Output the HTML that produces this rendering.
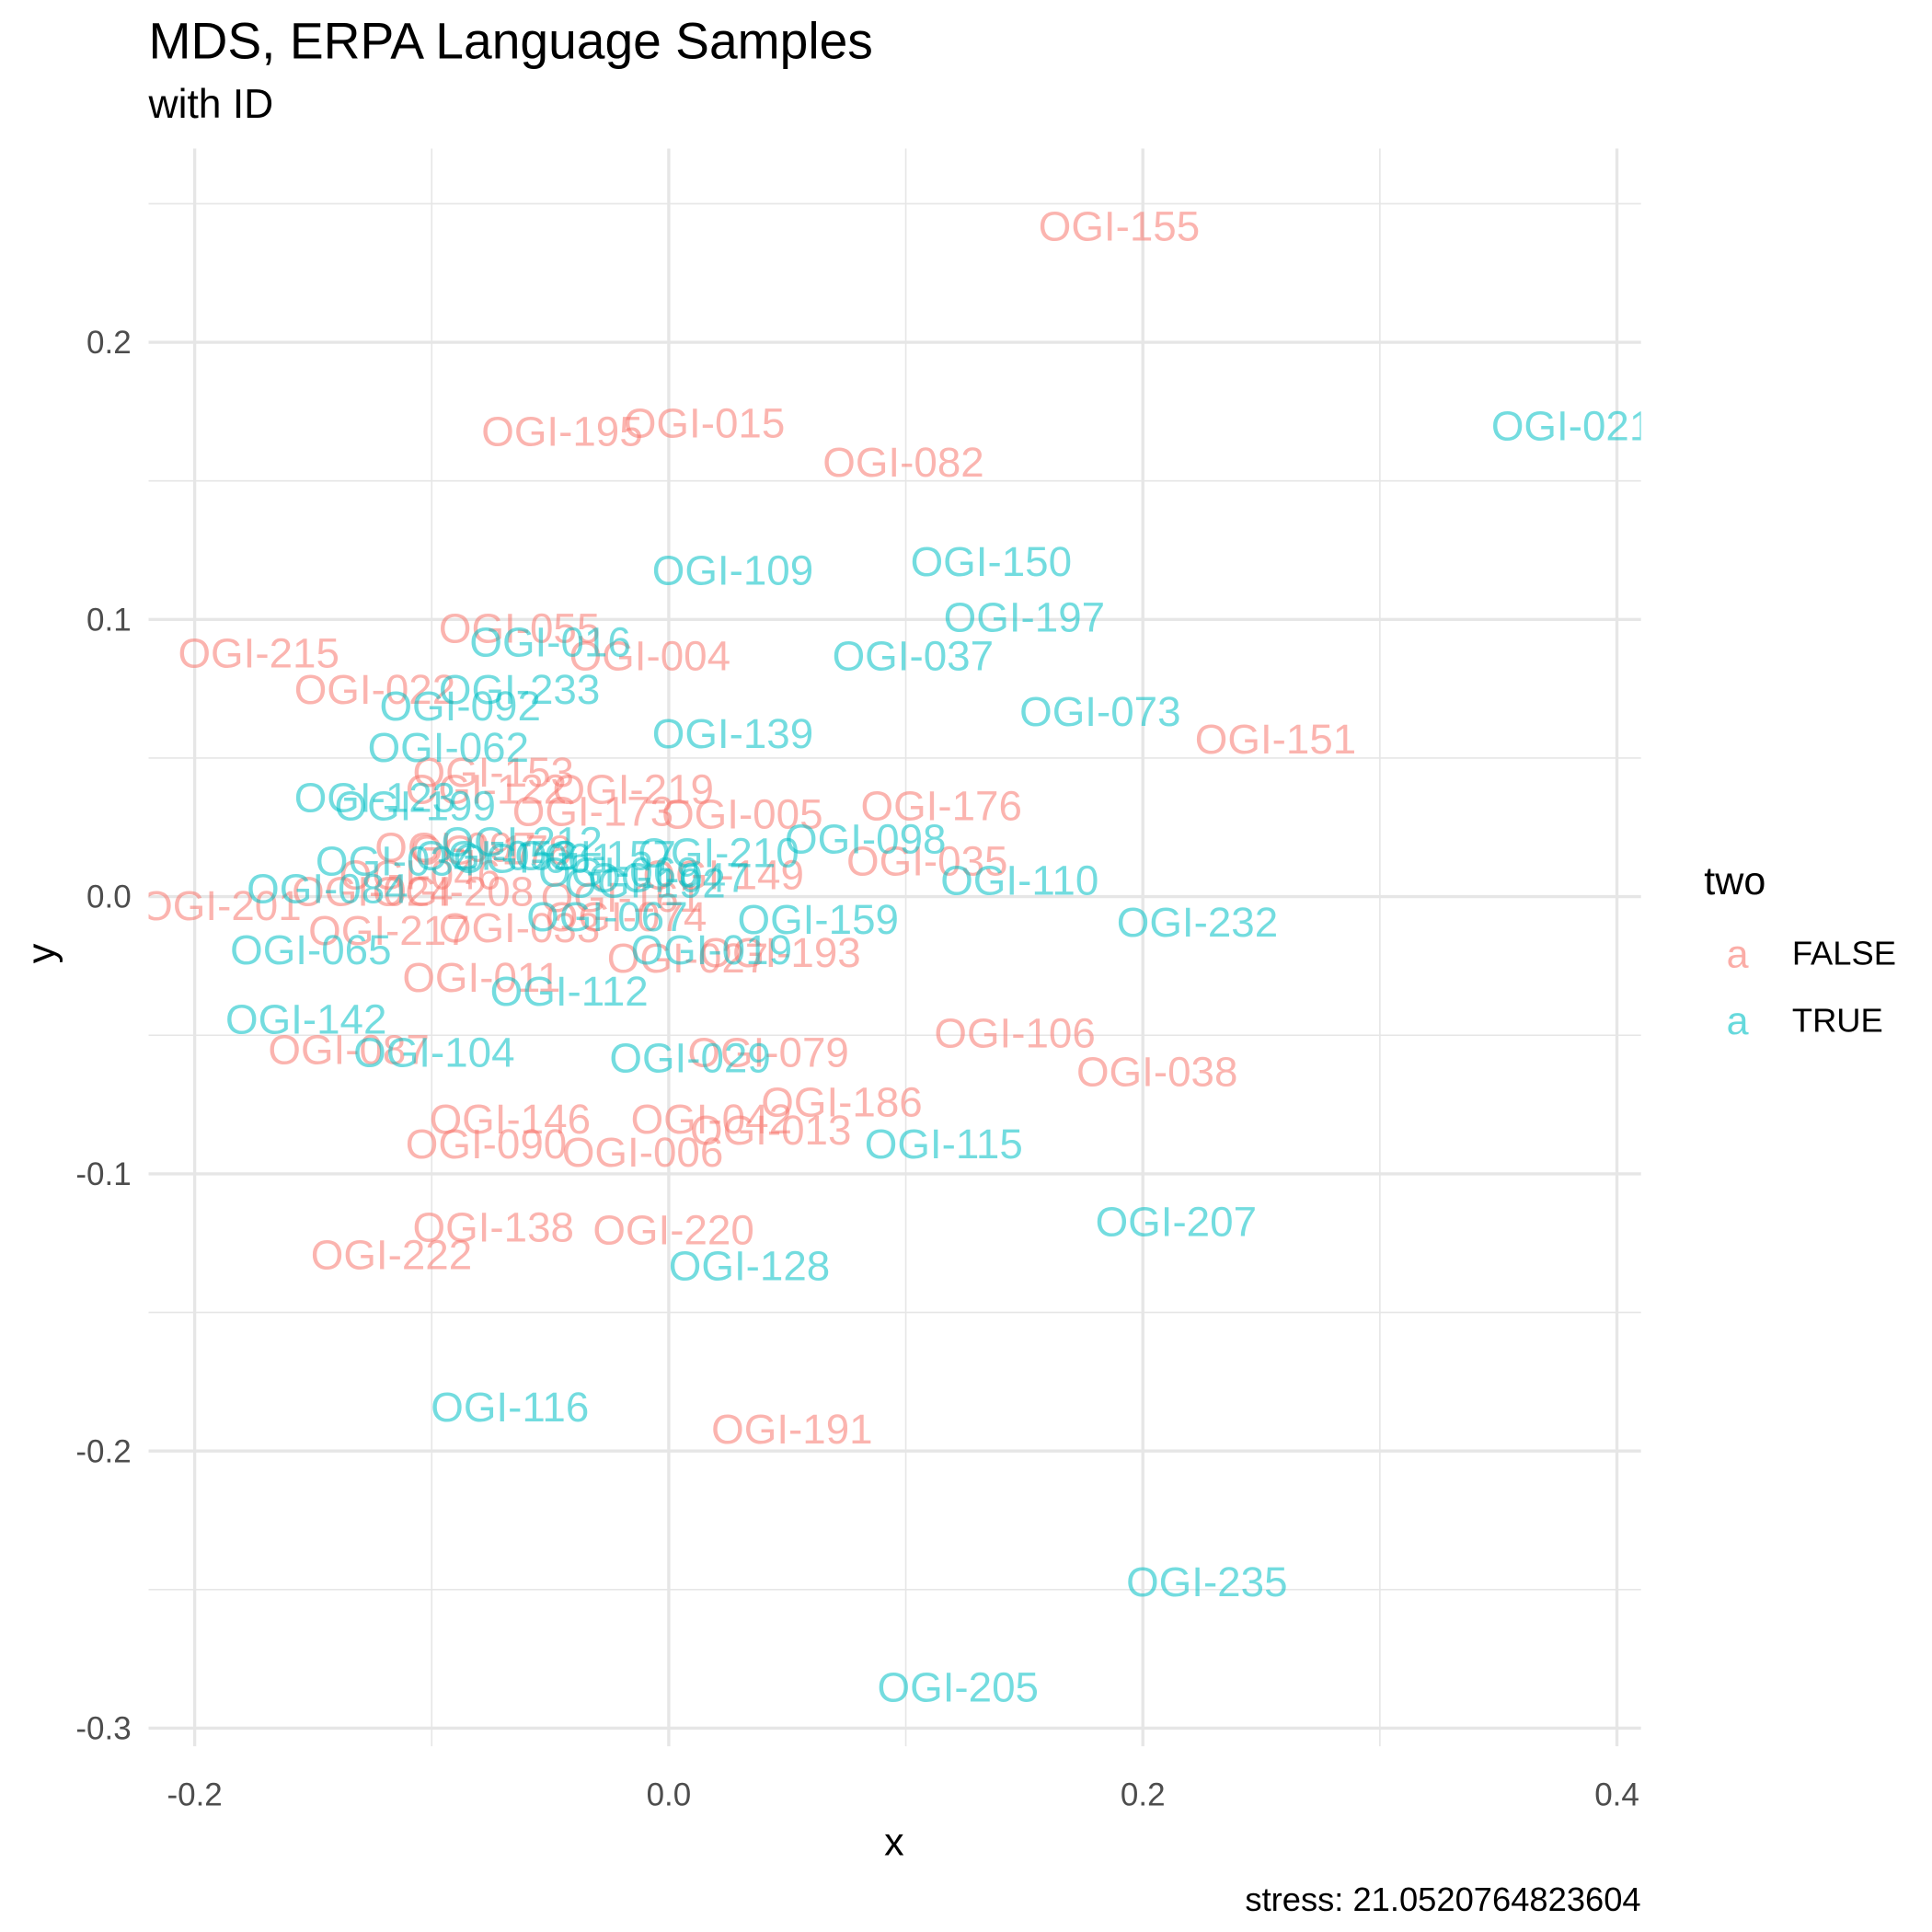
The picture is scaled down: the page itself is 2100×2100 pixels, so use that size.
<!DOCTYPE html>
<html><head><meta charset="utf-8"><style>
html,body{margin:0;padding:0;background:#fff;}
svg{display:block;font-family:"Liberation Sans",Arial,sans-serif;}
</style></head><body>
<svg id="chart" width="2100" height="2100" viewBox="0 0 1560 1560" xmlns="http://www.w3.org/2000/svg">
<text x="120" y="47" font-size="41" fill="#000">MDS, ERPA Language Samples</text>
<text x="120" y="95" font-size="33" fill="#000">with ID</text>
<defs><clipPath id="pc"><rect x="120" y="120" width="1205" height="1290"/></clipPath></defs>
<g id="grid"></g>
<g id="ticks"></g>
<g id="points" clip-path="url(#pc)"></g>
<text x="722" y="1498" font-size="32" text-anchor="middle" fill="#000">x</text>
<text transform="translate(44,770) rotate(-90)" font-size="32" text-anchor="middle" fill="#000">y</text>
<g>
<text x="1376" y="722" font-size="32" fill="#000">two</text>
<g><text x="1403" y="781" font-size="32" text-anchor="middle" fill="#F8766D" fill-opacity="0.6">a</text><text x="1447" y="779" font-size="27" fill="#000">FALSE</text></g>
<g><text x="1403" y="835" font-size="32" text-anchor="middle" fill="#00BFC4" fill-opacity="0.6">a</text><text x="1447" y="833" font-size="27" fill="#000">TRUE</text></g>
</g>
<text x="1325" y="1543" font-size="27" text-anchor="end" fill="#000">stress: 21.0520764823604</text>
</svg>
<script>
const labels = ["OGI-155","OGI-195","OGI-015","OGI-082","OGI-215","OGI-055","OGI-004","OGI-022","OGI-151","OGI-153","OGI-122","OGI-219","OGI-173","OGI-005","OGI-176","OGI-035","OGI-149","OGI-201","OGI-217","OGI-033","OGI-011","OGI-193","OGI-027","OGI-106","OGI-038","OGI-079","OGI-186","OGI-146","OGI-042","OGI-013","OGI-090","OGI-006","OGI-138","OGI-220","OGI-222","OGI-191","OGI-087","OGI-097","OGI-024","OGI-208","OGI-161","OGI-074","OGI-046","OGI-178",
"OGI-021","OGI-109","OGI-150","OGI-197","OGI-016","OGI-037","OGI-233","OGI-092","OGI-073","OGI-139","OGI-062","OGI-123","OGI-199","OGI-098","OGI-212","OGI-210","OGI-110","OGI-159","OGI-232","OGI-065","OGI-112","OGI-142","OGI-104","OGI-029","OGI-115","OGI-207","OGI-128","OGI-116","OGI-235","OGI-205","OGI-019","OGI-157","OGI-047","OGI-069","OGI-061","OGI-034","OGI-084","OGI-067","OGI-052","OGI-192"];
const xVals = [0.190,-0.045,0.015,0.099,-0.173,-0.063,-0.008,-0.124,0.256,-0.074,-0.077,-0.015,-0.032,0.031,0.115,0.109,0.023,-0.189,-0.118,-0.063,-0.079,0.047,0.008,0.146,0.206,0.042,0.073,-0.067,0.018,0.043,-0.077,-0.011,-0.074,0.002,-0.117,0.052,-0.135,-0.090,-0.125,-0.091,-0.020,-0.018,-0.105,-0.075,
0.381,0.027,0.136,0.150,-0.050,0.103,-0.063,-0.088,0.182,0.027,-0.093,-0.124,-0.107,0.083,-0.062,0.021,0.148,0.063,0.223,-0.151,-0.042,-0.153,-0.099,0.009,0.116,0.214,0.034,-0.067,0.227,0.122,0.018,-0.031,0.000,-0.021,-0.057,-0.115,-0.144,-0.026,-0.073,-0.010];
const yVals = [0.242,0.168,0.171,0.157,0.088,0.097,0.087,0.075,0.057,0.045,0.039,0.039,0.031,0.030,0.033,0.013,0.008,-0.003,-0.012,-0.011,-0.029,-0.020,-0.022,-0.049,-0.063,-0.056,-0.074,-0.080,-0.080,-0.084,-0.089,-0.092,-0.119,-0.120,-0.129,-0.192,-0.055,0.018,0.002,0.002,0.000,-0.007,0.008,0.017,
0.170,0.118,0.121,0.101,0.092,0.087,0.075,0.069,0.067,0.059,0.054,0.036,0.033,0.021,0.020,0.016,0.006,-0.008,-0.009,-0.019,-0.034,-0.044,-0.056,-0.058,-0.089,-0.117,-0.133,-0.184,-0.247,-0.285,-0.019,0.015,0.007,0.009,0.014,0.013,0.003,-0.007,0.015,0.005];
const groups = ["F","F","F","F","F","F","F","F","F","F","F","F","F","F","F","F","F","F","F","F","F","F","F","F","F","F","F","F","F","F","F","F","F","F","F","F","F","F","F","F","F","F","F","F",
"T","T","T","T","T","T","T","T","T","T","T","T","T","T","T","T","T","T","T","T","T","T","T","T","T","T","T","T","T","T","T","T","T","T","T","T","T","T","T","T"];
const xTicks = [-0.2,0.0,0.2,0.4];
const xTickLabels = ["-0.2","0.0","0.2","0.4"];
const yTicks = [0.2,0.1,0.0,-0.1,-0.2,-0.3];
const yTickLabels = ["0.2","0.1","0.0","-0.1","-0.2","-0.3"];
const xMinor = [-0.1,0.1,0.3];
const yMinor = [0.25,0.15,0.05,-0.05,-0.15,-0.25];

const NS="http://www.w3.org/2000/svg";
function xs(v){return 540+v*1914;}
function ys(v){return 724-v*2238;}
const grid=document.getElementById('grid'), ticks=document.getElementById('ticks'), pts=document.getElementById('points');
function line(x1,y1,x2,y2,w,name){
  const l=document.createElementNS(NS,'line');
  l.setAttribute('x1',x1);l.setAttribute('y1',y1);l.setAttribute('x2',x2);l.setAttribute('y2',y2);
  l.setAttribute('stroke','#E6E6E6');l.setAttribute('stroke-width',w);
  
  
  grid.appendChild(l);
}
xMinor.forEach(v=>line(xs(v),120,xs(v),1410,1.2,'x-minor-gridline'));
yMinor.forEach(v=>line(120,ys(v),1325,ys(v),1.2,'y-minor-gridline'));
xTicks.forEach(v=>line(xs(v),120,xs(v),1410,2.5,'x-major-gridline'));
yTicks.forEach(v=>line(120,ys(v),1325,ys(v),2.5,'y-major-gridline'));
xTicks.forEach((v,i)=>{
  const t=document.createElementNS(NS,'text');
  t.setAttribute('x',xs(v));t.setAttribute('y',1458);t.setAttribute('font-size','26');
  t.setAttribute('text-anchor','middle');t.setAttribute('fill','#4D4D4D');
  
  
  t.textContent=xTickLabels[i];ticks.appendChild(t);
});
yTicks.forEach((v,i)=>{
  const t=document.createElementNS(NS,'text');
  t.setAttribute('x',106);t.setAttribute('y',ys(v)+9);t.setAttribute('font-size','26');
  t.setAttribute('text-anchor','end');t.setAttribute('fill','#4D4D4D');
  
  
  t.textContent=yTickLabels[i];ticks.appendChild(t);
});
labels.forEach((lab,i)=>{
  const t=document.createElementNS(NS,'text');
  t.setAttribute('x',xs(xVals[i]));t.setAttribute('y',ys(yVals[i])+12);
  t.setAttribute('font-size','34');t.setAttribute('text-anchor','middle');
  t.setAttribute('fill',groups[i]==="T"?'#00BFC4':'#F8766D');t.setAttribute('fill-opacity','0.55');
  
  
  t.textContent=lab;pts.appendChild(t);
});
</script>
</body></html>
